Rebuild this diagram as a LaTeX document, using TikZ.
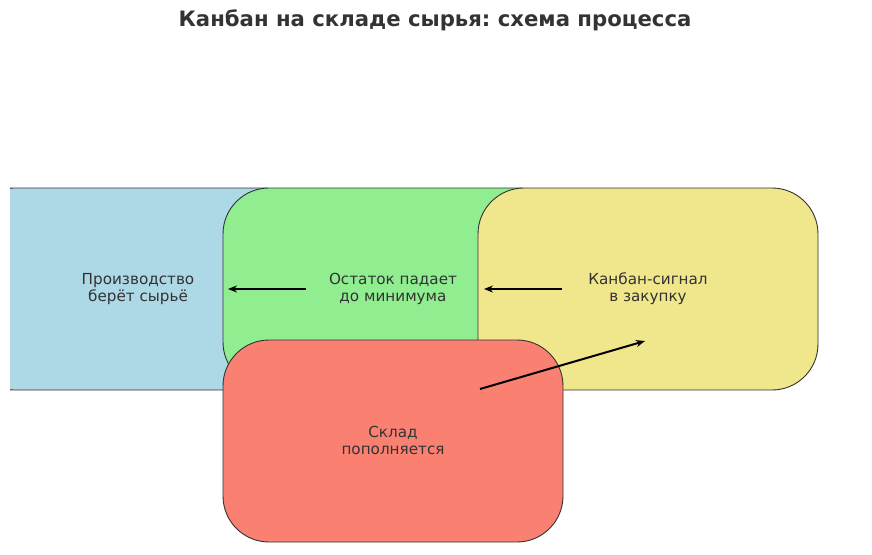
\documentclass[tikz,border=0pt]{standalone}
\usepackage{fontspec}
\setmainfont{DejaVu Sans}
\usetikzlibrary{arrows.meta}
\frenchspacing
\definecolor{cblue}{HTML}{ADD8E6}
\definecolor{cgreen}{HTML}{90EE90}
\definecolor{cyellow}{HTML}{F0E68C}
\definecolor{cred}{HTML}{FA8072}
\definecolor{ctext}{HTML}{333333}
\tikzset{
  stepbox/.style={draw=black!80, line width=0.9pt, rounded corners=46pt},
  boxlabel/.style={text=ctext, align=center, font=\fontsize{15.2}{17}\selectfont, inner sep=0pt},
  flow/.style={-{Stealth[length=9pt,width=7pt]}, line width=2pt, black}
}
\begin{document}
\begin{tikzpicture}[x=1pt,y=-1pt]
\useasboundingbox (0,0) rectangle (872,554);
\begin{scope}
\clip (10,0) rectangle (872,554);
\filldraw[stepbox, fill=cblue] (-32,188) rectangle (308,390);
\end{scope}
\filldraw[stepbox, fill=cgreen] (223,188) rectangle (563,388);
\filldraw[stepbox, fill=cyellow] (478,188) rectangle (818,390);
\filldraw[stepbox, fill=cred] (223,340) rectangle (563,542);
\node[boxlabel] (prod) at (138,289) {Производство\\берёт сырьё};
\node[boxlabel] (min) at (393,289) {Остаток падает\\до минимума};
\node[boxlabel] (sig) at (648,289) {Канбан-сигнал\\в закупку};
\node[boxlabel] (sklad) at (393,440) {Склад\\пополняется};
\coordinate (a1s) at (306,289);
\coordinate (a1e) at (228,289);
\coordinate (a2s) at (562,289);
\coordinate (a2e) at (484,289);
\coordinate (a3s) at (480,389);
\coordinate (a3e) at (645,341);
\draw[flow] (a1s) -- (a1e);
\draw[flow] (a2s) -- (a2e);
\draw[flow] (a3s) -- (a3e);
\node[text=ctext, font=\bfseries\fontsize{21.2}{24}\selectfont, inner sep=0pt] (title) at (435,20) {Канбан на складе сырья: схема процесса};
\end{tikzpicture}
\end{document}
